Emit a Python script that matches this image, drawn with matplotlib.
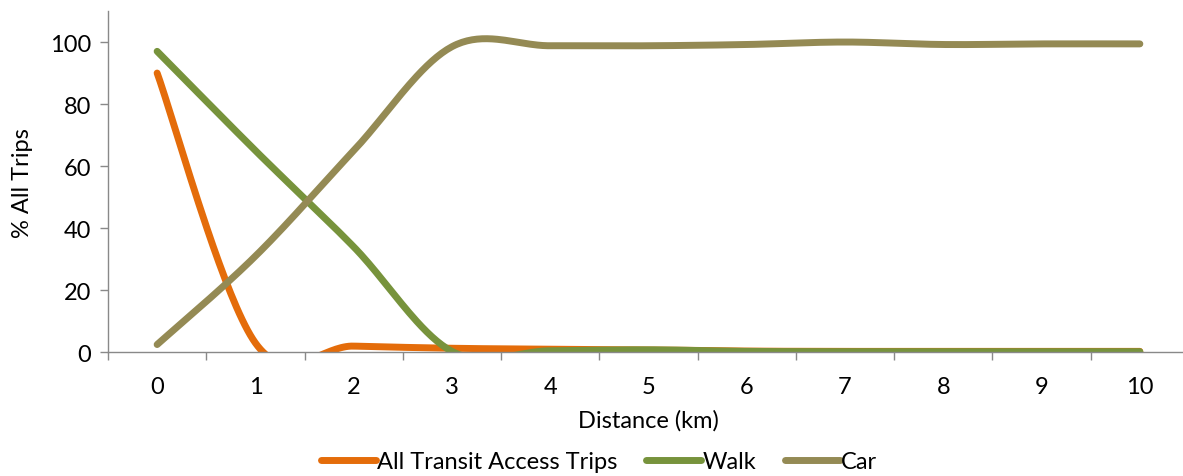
import numpy as np
import matplotlib
matplotlib.use("Agg")
import matplotlib.pyplot as plt
from matplotlib.ticker import FixedLocator, NullFormatter

distance_km = [0, 1, 2, 3, 4, 5, 6, 7, 8, 9, 10]
transit = [90, 3, 2, 1.3, 1.0, 0.8, 0.4, 0.3, 0.3, 0.3, 0.3]
walk = [97, 65, 34, 0.3, 0.5, 0.8, 0.3, 0.2, 0.2, 0.2, 0.2]
car = [2.5, 31, 65, 98.5, 98.8, 98.8, 99.2, 100, 99.2, 99.4, 99.4]

series_names = ["All Transit Access Trips", "Walk", "Car"]
series_colors = ["#E46C0A", "#77933C", "#948A54"]


def smooth(xs, ys, n=40):
    """Cardinal (Catmull-Rom style) Bezier smoothing through every point."""
    xs = np.asarray(xs, float)
    ys = np.asarray(ys, float)
    px = np.concatenate([[xs[0]], xs, [xs[-1]]])
    py = np.concatenate([[ys[0]], ys, [ys[-1]]])
    out_x, out_y = [], []
    t = np.linspace(0, 1, n)
    for i in range(1, len(px) - 2):
        p0 = np.array([px[i], py[i]])
        p3 = np.array([px[i + 1], py[i + 1]])
        c1 = p0 + (p3 - np.array([px[i - 1], py[i - 1]])) / 6
        c2 = p3 - (np.array([px[i + 2], py[i + 2]]) - p0) / 6
        b = ((1 - t) ** 3)[:, None] * p0 + (3 * (1 - t) ** 2 * t)[:, None] * c1 \
            + (3 * (1 - t) * t ** 2)[:, None] * c2 + (t ** 3)[:, None] * p3
        out_x.append(b[:, 0])
        out_y.append(b[:, 1])
    return np.concatenate(out_x), np.concatenate(out_y)


plt.rcParams["font.family"] = ["Lato", "DejaVu Sans"]
FS = 17

W, H = 1183, 477
fig = plt.figure(figsize=(W / 100, H / 100), dpi=100)
ax = fig.add_axes([108 / W, 1 - 353.3 / H, 1081 / W, (353.3 - 12) / H])

for vals, name, col in zip([transit, walk, car], series_names, series_colors):
    sx, sy = smooth(distance_km, vals)
    ax.plot(sx, sy, color=col, lw=5.0, solid_capstyle="round",
            solid_joinstyle="round", label=name)

ax.set_xlim(-0.5, 10.5)
ax.set_ylim(0, 110)

ax.xaxis.set_major_locator(FixedLocator(np.arange(-0.5, 10.6, 1)))
ax.xaxis.set_major_formatter(NullFormatter())
ax.xaxis.set_minor_locator(FixedLocator(distance_km))
ax.set_xticklabels([str(d) for d in distance_km], minor=True)
ax.tick_params(axis="x", which="major", length=6, width=1, color="#898989",
               direction="out")
ax.tick_params(axis="x", which="minor", length=0, pad=17, labelsize=FS)

ax.set_yticks([0, 20, 40, 60, 80, 100])
ax.tick_params(axis="y", length=6, width=1, color="#898989", labelsize=FS,
               pad=6)

for side in ["top", "right"]:
    ax.spines[side].set_visible(False)
for side in ["left", "bottom"]:
    ax.spines[side].set_color("#898989")
    ax.spines[side].set_linewidth(1)

ax.set_xlabel("Distance (km)", fontsize=FS, labelpad=9)
ax.set_ylabel("% All Trips", fontsize=FS, labelpad=12)

fig.legend(loc="center", bbox_to_anchor=(599 / W, 1 - 463 / H), ncol=3,
           frameon=False, fontsize=FS, handlelength=2.35, handletextpad=0.05,
           columnspacing=1.2)

fig.savefig("out.png", dpi=100)
